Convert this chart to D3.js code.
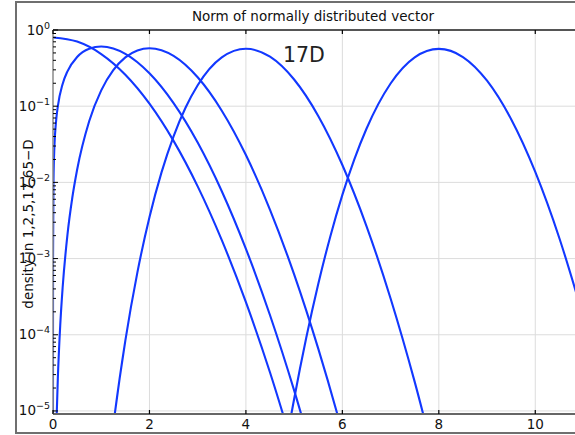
<!DOCTYPE html>
<html>
<head>
<meta charset="utf-8">
<script src="https://cdn.jsdelivr.net/npm/d3@7"></script>
<style>
  html, body { margin: 0; padding: 0; background: #fff; }
  svg { display: block; }
  text { font-family: "DejaVu Sans", sans-serif; }
</style>
</head>
<body>
<script>
// Density of the Euclidean norm of a standard normal vector, by dimension
const dims = [1, 2, 5, 17, 65];

const norm1D = [0, 0.5, 1, 1.5, 2, 2.5, 3, 3.5, 4, 4.5, 5];
const dens1D = [0.7979, 0.7041, 0.4839, 0.2590, 0.1080, 0.03506, 0.008864, 0.001745, 2.677e-4, 3.196e-5, 2.973e-6];

const norm2D = [0.000001, 0.00001, 0.0001, 0.001, 0.01, 0.03, 0.06, 0.1, 0.2, 0.3, 0.5, 0.75, 1, 1.25, 1.5, 2, 2.5, 3, 3.5, 4, 4.5, 5, 5.5];
const dens2D = [1e-6, 1e-5, 1e-4, 1e-3, 0.0099995, 0.029987, 0.059892, 0.099501, 0.19604, 0.28680, 0.44125, 0.56613, 0.60653, 0.57229, 0.48698, 0.27067, 0.10984, 0.033327, 0.007656, 0.0013418, 1.8029e-4, 1.8633e-5, 1.4848e-6];

const norm5D = [0.05, 0.07, 0.1, 0.15, 0.2, 0.3, 0.4, 0.5, 0.75, 1, 1.25, 1.5, 1.75, 2, 2.25, 2.5, 3, 3.5, 4, 4.5, 5, 5.5, 6, 6.5];
const dens5D = [1.660e-6, 6.38e-6, 2.646e-5, 1.3313e-4, 4.1711e-4, 2.0595e-3, 6.2852e-3, 0.014670, 0.063521, 0.16131, 0.29728, 0.43712, 0.53947, 0.57590, 0.54231, 0.45647, 0.23932, 0.087305, 0.022840, 4.3695e-3, 6.1947e-4, 6.570e-5, 5.2496e-6, 3.177e-7];

const norm17D = [1, 1.25, 1.5, 1.75, 2, 2.25, 2.5, 2.75, 3, 3.5, 4, 4.5, 5, 5.5, 6, 6.5, 7, 7.5, 8];
const dens17D = [2.3874e-7, 6.4024e-6, 8.3937e-5, 6.5866e-4, 3.4912e-3, 0.013511, 0.040267, 0.095986, 0.18823, 0.43663, 0.56712, 0.44590, 0.22383, 0.074503, 0.016912, 2.6744e-3, 2.9952e-4, 2.4073e-5, 1.4031e-6];

const norm65D = [4.5, 4.75, 5, 5.25, 5.5, 5.75, 6, 6.25, 6.5, 7, 7.5, 8, 8.5, 9, 9.5, 10, 10.5, 11];
const dens65D = [1.8198e-7, 1.8225e-6, 1.4357e-5, 9.0515e-5, 4.6362e-4, 1.9542e-3, 6.8552e-3, 0.020214, 0.050540, 0.19848, 0.43757, 0.56494, 0.44215, 0.21591, 0.067366, 0.013707, 1.8505e-3, 1.6825e-4];

const xTicks = [0, 2, 4, 6, 8, 10];
const yTickExps = [0, -1, -2, -3, -4, -5];

const titleText = "Norm of normally distributed vector";
const yLabelText = "density in 1,2,5,17,65\u2212D";
const noteText = "17D";
const noteAt = [4.77, 0.38];

const series = [
  { dim: dims[0], xs: norm1D, ys: dens1D },
  { dim: dims[1], xs: norm2D, ys: dens2D },
  { dim: dims[2], xs: norm5D, ys: dens5D },
  { dim: dims[3], xs: norm17D, ys: dens17D },
  { dim: dims[4], xs: norm65D, ys: dens65D }
];

const W = 575, H = 435;
const plot = { left: 53, top: 30, right: 583.5, bottom: 414 };

const x = d3.scaleLinear().domain([0, 11]).range([plot.left, plot.right]);
const y = d3.scaleLog().domain([Math.pow(10, -5.04), 1]).range([plot.bottom, plot.top]);

const svg = d3.select("body").append("svg").attr("width", W).attr("height", H);

// outer figure frame
svg.append("rect")
  .attr("x", 16).attr("y", 2).attr("width", 620).attr("height", 431)
  .attr("fill", "none").attr("stroke", "#6f6f6f").attr("stroke-width", 2);

// title
svg.append("text")
  .attr("x", 313).attr("y", 20.5)
  .attr("text-anchor", "middle")
  .attr("font-size", 13.5).attr("fill", "#111")
  .text(titleText);

svg.append("defs").append("clipPath").attr("id", "plotclip")
  .append("rect")
  .attr("x", plot.left).attr("y", plot.top)
  .attr("width", plot.right - plot.left).attr("height", plot.bottom - plot.top);

// grid
const grid = svg.append("g").attr("stroke", "#dcdcdc").attr("stroke-width", 1);
grid.selectAll("line.vx").data(xTicks.filter(t => t > 0)).join("line")
  .attr("x1", d => x(d)).attr("x2", d => x(d))
  .attr("y1", plot.top).attr("y2", plot.bottom);
grid.selectAll("line.hy").data(yTickExps).join("line")
  .attr("x1", plot.left).attr("x2", plot.right)
  .attr("y1", d => y(Math.pow(10, d))).attr("y2", d => y(Math.pow(10, d)));

// curves
const line = d3.line()
  .x(d => x(d[0]))
  .y(d => y(d[1]))
  .curve(d3.curveMonotoneX);

svg.append("g").attr("clip-path", "url(#plotclip)")
  .selectAll("path").data(series).join("path")
  .attr("d", s => line(s.xs.map((v, i) => [v, s.ys[i]])))
  .attr("fill", "none")
  .attr("stroke", "#1238ff")
  .attr("stroke-width", 2.1)
  .attr("stroke-linejoin", "round");

// spines
svg.append("line").attr("x1", plot.left).attr("x2", W + 10)
  .attr("y1", plot.top).attr("y2", plot.top)
  .attr("stroke", "#555").attr("stroke-width", 2);
svg.append("line").attr("x1", plot.left).attr("x2", W + 10)
  .attr("y1", plot.bottom).attr("y2", plot.bottom)
  .attr("stroke", "#666").attr("stroke-width", 2);
svg.append("line").attr("x1", plot.left).attr("x2", plot.left)
  .attr("y1", plot.top).attr("y2", plot.bottom)
  .attr("stroke", "#8a8a8a").attr("stroke-width", 1.5);

// x ticks (top and bottom, inward)
const xt = svg.append("g").attr("stroke", "#000").attr("stroke-width", 1.2);
xt.selectAll("line.t").data(xTicks).join("line")
  .attr("x1", d => x(d)).attr("x2", d => x(d))
  .attr("y1", plot.top).attr("y2", plot.top + 4);
xt.selectAll("line.b").data(xTicks).enter().append("line")
  .attr("x1", d => x(d)).attr("x2", d => x(d))
  .attr("y1", plot.bottom).attr("y2", plot.bottom - 4);

svg.append("g").selectAll("text").data(xTicks).join("text")
  .attr("x", d => x(d)).attr("y", 429)
  .attr("text-anchor", "middle")
  .attr("font-size", 13.5).attr("fill", "#111")
  .text(d => d);

// y ticks: majors and log minors, inward
const yt = svg.append("g").attr("stroke", "#000").attr("stroke-width", 1);
yt.selectAll("line.maj").data(yTickExps).join("line")
  .attr("x1", plot.left).attr("x2", plot.left + 5)
  .attr("y1", d => y(Math.pow(10, d))).attr("y2", d => y(Math.pow(10, d)));
const minors = [];
yTickExps.forEach(e => { for (let m = 2; m <= 9; m++) minors.push(m * Math.pow(10, e - 1)); });
yt.selectAll("line.min").data(minors.filter(v => v >= y.domain()[0])).enter().append("line")
  .attr("x1", plot.left).attr("x2", plot.left + 3)
  .attr("y1", d => y(d)).attr("y2", d => y(d));

const ylab = svg.append("g").selectAll("text").data(yTickExps).join("text")
  .attr("x", 50).attr("y", d => y(Math.pow(10, d)) + 4.5)
  .attr("text-anchor", "end")
  .attr("font-size", 13.5).attr("fill", "#111");
ylab.append("tspan").text("10");
ylab.append("tspan").attr("dy", -6).attr("font-size", 9.5)
  .text(d => d === 0 ? "0" : "\u2212" + Math.abs(d));

// y axis title
svg.append("text")
  .attr("transform", "translate(33,224) rotate(-90)")
  .attr("text-anchor", "middle")
  .attr("font-size", 13.5).attr("fill", "#111")
  .text(yLabelText);

// annotation
svg.append("text")
  .attr("x", x(noteAt[0])).attr("y", y(noteAt[1]))
  .attr("font-size", 20.5).attr("fill", "#222")
  .text(noteText);
</script>
</body>
</html>
